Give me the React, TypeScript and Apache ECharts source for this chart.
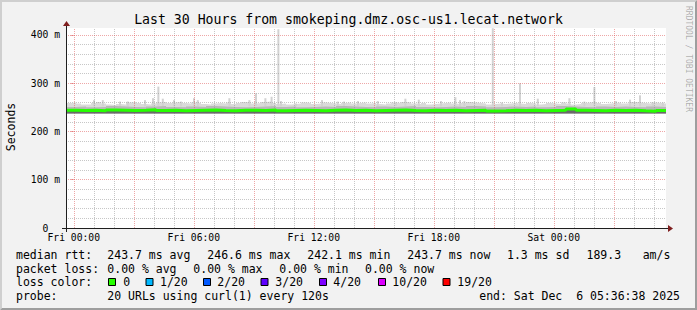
import { useEffect, useRef } from 'react';
import * as echarts from 'echarts';

const MONO = '"DejaVu Sans Mono", monospace';

// x axis: hours relative to Fri 00:00 (window = Thu 23:36:38 .. Sat 05:36:38)
const START_HOUR = -0.3894;
const END_HOUR = 29.6106;
const Y_MAX_MS = 414.5;

const xLabelHours = [0, 6, 12, 18, 24];
const xLabelTexts = ['Fri 00:00', 'Fri 06:00', 'Fri 12:00', 'Fri 18:00', 'Sat 00:00'];
const yLabelValues = [0, 100, 200, 300, 400];
const minorHourLines = [1, 2, 4, 5, 7, 8, 10, 11, 13, 14, 16, 17, 19, 20, 22, 23, 25, 26, 28, 29];
const majorHourLines = [0, 3, 6, 9, 12, 15, 18, 21, 24, 27];
const minorMsLines = [20, 40, 60, 80, 120, 140, 160, 180, 220, 240, 260, 280, 320, 340, 360, 380];
const majorMsLines = [100, 200, 300, 400];

// smoke: upper edge of the light smoke, one value per 15 minutes (ms)
const TOP_STEP_H = 0.25;
const smokeTopMs = [
  259, 260, 258, 256, 256, 259, 261, 258, 256, 255, 257, 256, 260, 261, 259, 257, 256, 258, 260, 261, 259, 260, 261, 259, 258, 260, 259, 257, 256, 258,
  259, 258, 260, 257, 259, 261, 260, 258, 259, 261, 262, 259, 257, 258, 256, 257, 258, 260, 259, 257, 258, 260, 259, 258, 257, 259, 260, 258, 259, 260,
  258, 259, 257, 256, 258, 260, 259, 261, 260, 258, 257, 259, 256, 257, 258, 259, 260, 258, 257, 259, 261, 260, 259, 258, 256, 257, 258, 257, 258, 259,
  258, 257, 259, 258, 256, 257, 259, 258, 257, 260, 258, 256, 257, 259, 260, 261, 259, 257, 258, 259, 260, 258, 259, 261, 260, 259, 258, 260, 259, 258,
];
// dense smoke upper edge and median rtt, one value per 30 minutes (ms)
const BAND_STEP_H = 0.5;
const smokeMidMs = [
  251, 252, 250, 251, 253, 252, 251, 250, 252, 253, 251, 250, 252, 251, 253, 252, 251, 250, 251, 252, 253, 251, 252, 250, 251, 252, 251, 253, 252, 251,
  250, 252, 251, 252, 253, 251, 250, 251, 252, 251, 253, 252, 250, 251, 252, 251, 252, 250, 251, 253, 252, 251, 250, 252, 251, 252, 251, 250, 252, 251,
];
const medianRttMs = [
  244, 243.5, 244, 243, 244.5, 244, 243.5, 244, 245, 243.5, 244, 243, 243.5, 244, 244.5, 243.5, 243, 244, 244, 243.5, 244.5, 243, 243.5, 244, 243.5, 243, 244, 244.5, 243.5, 244,
  243, 243.5, 244, 244.5, 243.5, 243, 244, 243.5, 244, 243, 243.5, 244, 242.5, 243, 244, 243.5, 244, 243, 243.5, 244, 246.6, 244, 243.5, 243, 244, 243.5, 244, 243, 242.1, 243.7,
];
const SMOKE_FLOOR_MS = 237.5;
const SPIKE_BASE_MS = 252;

// isolated smoke spikes: time (h) and top (ms)
const spikeHours = [
  1.01, 1.45, 2.31, 2.7, 3.56, 3.96, 4.23, 4.45, 5.01, 5.36, 6.01, 6.2, 7.78, 8.78, 9.11, 9.58, 9.89, 10.23, 10.36, 11.11,
  12.41, 13.2, 13.51, 14.21, 15.2, 16.11, 16.58, 17.25, 18.36, 19.08, 19.31, 19.53, 20.95, 21.41, 22.31, 23.2, 24.78, 25.53,
  26.03, 27.11, 27.81, 28.31, 28.95, 29.45,
];
const spikeTopsMs = [
  265, 265, 262, 262, 265, 269, 293, 268, 265, 262, 269, 265, 269, 265, 279, 269, 272, 412, 263, 258,
  265, 262, 262, 263, 263, 260, 268, 266, 263, 271, 265, 263, 414, 260, 300, 268, 269, 262,
  292, 263, 266, 275, 260, 260,
];

const lossLabels = ['0', '1/20', '2/20', '3/20', '4/20', '10/20', '19/20'];
const lossColors = ['#26ff00', '#00b8ff', '#0059ff', '#5e00ff', '#7e00ff', '#dd00ff', '#ff0000'];

const GRID_GRAY = 'rgba(143,143,143,0.5)';
const GRID_RED = 'rgba(222,79,79,0.5)';

function stepPoints(values: number[], step: number) {
  const pts = values.map((v, i) => [START_HOUR + i * step, v]);
  pts.push([END_HOUR, values[values.length - 1]]);
  return pts;
}

function txt(text: string, x: number, y: number, size = 11.5, extra: any = {}) {
  return {
    type: 'text',
    x,
    y,
    silent: true,
    ...extra,
    style: {
      text,
      fill: '#000',
      font: `${size}px ${MONO}`,
      align: 'left',
      verticalAlign: 'middle',
      ...(extra.style || {}),
    },
  };
}

export default function App() {
  const ref = useRef<HTMLDivElement>(null);

  useEffect(() => {
    document.body.style.margin = '0';
    const chart = echarts.init(ref.current!, null, { renderer: 'svg' });

    const gridLines: any[] = [
      ...minorHourLines.map((h) => ({ xAxis: h, lineStyle: { color: GRID_GRAY, width: 1, type: [1, 1] } })),
      ...minorMsLines.map((v) => ({ yAxis: v, lineStyle: { color: GRID_GRAY, width: 1, type: [1, 1] } })),
      ...majorHourLines.map((h) => ({ xAxis: h, lineStyle: { color: GRID_RED, width: 1, type: [1, 1] } })),
      ...majorMsLines.map((v) => ({ yAxis: v, lineStyle: { color: GRID_RED, width: 1, type: [1, 1] } })),
    ];

    const legendRow1 = [
      ['median rtt:', 16], ['243.7 ms avg', 107.3], ['246.6 ms max', 207.3], ['242.1 ms min', 307.3],
      ['243.7 ms now', 407.3], ['1.3 ms sd', 507], ['189.3', 586.5], ['am/s', 642.7],
    ] as [string, number][];
    const legendRow2 = [
      ['packet loss:', 16], ['0.00 % avg', 107.3], ['0.00 % max', 193.3], ['0.00 % min', 279.3], ['0.00 % now', 365],
    ] as [string, number][];
    const boxX = [108.5, 146, 203.5, 261, 319.5, 378.5, 443];
    const lossTextX = [123.3, 160, 217.3, 275.3, 333.3, 392.3, 457.3];

    const graphics: any[] = [
      { type: 'polygon', silent: true, shape: { points: [[0, 310], [2, 308], [2, 2], [695, 2], [697, 0], [0, 0]] }, style: { fill: '#cfcfcf' } },
      { type: 'polygon', silent: true, shape: { points: [[2, 308], [695, 308], [695, 2], [697, 0], [697, 310], [0, 310]] }, style: { fill: '#9e9e9e' } },
      { type: 'line', silent: true, z: 50, shape: { x1: 62, y1: 228.5, x2: 670, y2: 228.5 }, style: { stroke: '#1f1f1f', lineWidth: 1 } },
      { type: 'line', silent: true, z: 50, shape: { x1: 66.5, y1: 232, x2: 66.5, y2: 24 }, style: { stroke: '#1f1f1f', lineWidth: 1 } },
      { type: 'polygon', silent: true, z: 51, shape: { points: [[668, 225], [668, 232], [673, 228.5]] }, style: { fill: '#7f1f1f' } },
      { type: 'polygon', silent: true, z: 51, shape: { points: [[63, 26], [70, 26], [66.5, 21]] }, style: { fill: '#7f1f1f' } },
      txt('Last 30 Hours from smokeping.dmz.osc-us1.lecat.network', 348.5, 19.5, 13.2, { style: { align: 'center' } }),
      txt('Seconds', 10.5, 127, 11.5, { rotation: Math.PI / 2, style: { align: 'center' } }),
      txt('RRDTOOL / TOBI OETIKER', 688, 59, 8, { rotation: -Math.PI / 2, style: { align: 'center', fill: 'rgba(0,0,0,0.3)' } }),
      ...legendRow1.map(([t, x]) => txt(t, x, 254.5)),
      ...legendRow2.map(([t, x]) => txt(t, x, 268.5)),
      txt('loss color:', 16, 282.3),
      ...lossLabels.map((t, i) => txt(t, lossTextX[i], 282.3)),
      ...lossColors.map((c, i) => ({
        type: 'rect', silent: true,
        shape: { x: boxX[i], y: 278.5, width: 7, height: 7 },
        style: { fill: c, stroke: '#000', lineWidth: 1 },
      })),
      txt('probe:', 16, 296.3),
      txt('20 URLs using curl(1) every 120s', 107.3, 296.3),
      txt('end: Sat Dec  6 05:36:38 2025', 680, 296.3, 11.5, { style: { align: 'right' } }),
    ];

    const option: any = {
      animation: false,
      backgroundColor: '#f2f2f2',
      grid: { left: 66, top: 28, width: 600, height: 200, show: true, backgroundColor: '#ffffff', borderWidth: 0 },
      xAxis: {
        type: 'value',
        min: START_HOUR,
        max: END_HOUR,
        axisLine: { show: false },
        splitLine: { show: false },
        axisTick: { show: false },
        axisLabel: {
          customValues: xLabelHours,
          formatter: (v: number) => {
            const i = xLabelHours.findIndex((h) => Math.abs(h - v) < 1e-6);
            return i >= 0 ? xLabelTexts[i] : '';
          },
          margin: 4,
          fontFamily: MONO,
          fontSize: 9.7,
          color: '#000',
        },
      },
      yAxis: {
        type: 'value',
        min: 0,
        max: Y_MAX_MS,
        axisLine: { show: false },
        splitLine: { show: false },
        axisTick: { show: true, customValues: yLabelValues.slice(1), length: 3, lineStyle: { color: GRID_RED } },
        axisLabel: {
          customValues: yLabelValues,
          formatter: (v: number) => (v === 0 ? '{z|0}' : `${v} m`),
          margin: 6,
          fontFamily: MONO,
          fontSize: 9.7,
          color: '#000',
          rich: { z: { fontFamily: MONO, fontSize: 9.7, color: '#000', padding: [0, 11.7, 0, 0] } },
        },
      },
      series: [
        {
          type: 'line',
          data: [],
          z: 1,
          silent: true,
          markLine: { silent: true, symbol: ['none', 'none'], label: { show: false }, animation: false, data: gridLines },
        },
        {
          type: 'line', z: 2, silent: true, step: 'end', showSymbol: false,
          data: stepPoints(smokeTopMs, TOP_STEP_H),
          lineStyle: { width: 0 },
          areaStyle: { origin: SMOKE_FLOOR_MS, color: '#dadada', opacity: 1 },
        },
        {
          type: 'custom', z: 3, silent: true,
          data: spikeHours.map((h, i) => [h, spikeTopsMs[i]]),
          renderItem: (_p: any, api: any) => {
            const top = api.coord([api.value(0), api.value(1)]);
            const base = api.coord([api.value(0), SPIKE_BASE_MS]);
            return { type: 'rect', shape: { x: top[0] - 1, y: top[1], width: 2, height: base[1] - top[1] }, style: { fill: '#d2d2d2' } };
          },
        },
        {
          type: 'line', z: 4, silent: true, step: 'end', showSymbol: false,
          data: stepPoints(smokeMidMs, BAND_STEP_H),
          lineStyle: { width: 0 },
          areaStyle: { origin: SMOKE_FLOOR_MS, color: '#b8b8b8', opacity: 1 },
        },
        {
          type: 'line', z: 5, silent: true, step: 'end', showSymbol: false,
          data: stepPoints(medianRttMs, BAND_STEP_H),
          lineStyle: { width: 0 },
          areaStyle: { origin: SMOKE_FLOOR_MS, color: '#6a6a6a', opacity: 1 },
        },
        {
          type: 'line', z: 6, silent: true, step: 'end', showSymbol: false,
          data: stepPoints(medianRttMs, BAND_STEP_H),
          lineStyle: { width: 3, color: '#26ff00' },
        },
      ],
      graphic: graphics,
    };

    chart.setOption(option);
    return () => chart.dispose();
  }, []);

  return <div ref={ref} style={{ width: 697, height: 310 }} />;
}
